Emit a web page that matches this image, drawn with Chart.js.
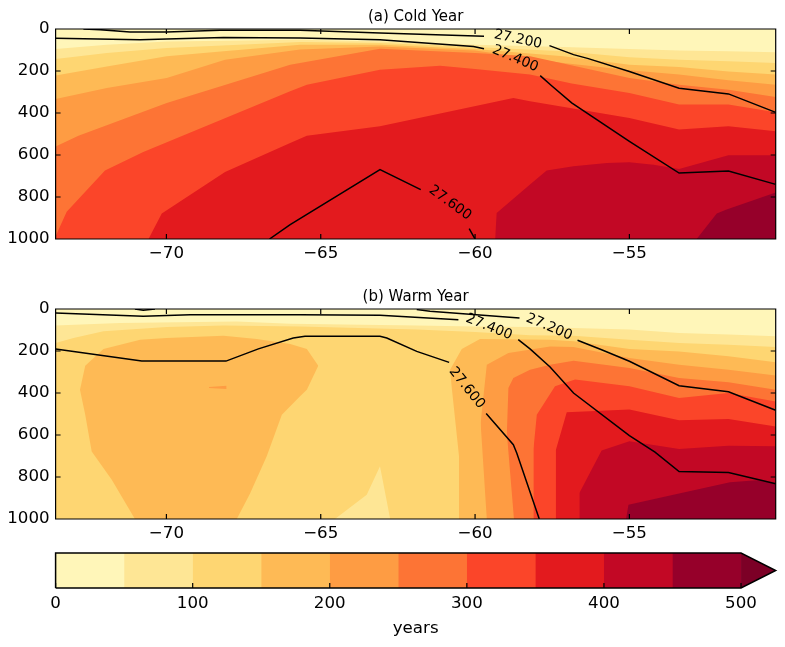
<!DOCTYPE html>
<html>
<head>
<meta charset="utf-8">
<title>Cold and warm year sections</title>
<script src="https://cdn.jsdelivr.net/npm/chart.js@4/dist/chart.umd.min.js"></script>
<style>
  html, body { margin: 0; padding: 0; background: #fff; }
  canvas { position: absolute; left: 0; display: block; }
</style>
</head>
<body>
<canvas id="coldChart" width="785" height="280" style="top:0"></canvas>
<canvas id="warmChart" width="785" height="280" style="top:280px"></canvas>
<canvas id="barChart" width="785" height="107" style="top:540px"></canvas>
<script>
// Axes
const lonTicks = [-70, -65, -60, -55];
const depthTicks = [0, 200, 400, 600, 800, 1000];
const yearTicks = [0, 100, 200, 300, 400, 500];
const yearLevels = [0, 50, 100, 150, 200, 250, 300, 350, 400, 450];

// Cold year: age contours as [lon, depth], filled down to the bottom
const cold0 = [[-73.59, 0], [-50.26, 0]];
const cold50 = [[-73.59, 95], [-71.93, 75], [-69.99, 59], [-65.67, 51], [-63.08, 59], [-60, 75], [-57.14, 86], [-55, 95], [-53.39, 102], [-51.79, 106], [-50.26, 111]];
const cold100 = [[-73.59, 143], [-71.93, 114], [-69.99, 90], [-65.67, 62], [-63.08, 67], [-60, 86], [-57.14, 106], [-55, 135], [-53.39, 146], [-51.79, 154], [-50.26, 162]];
const cold150 = [[-73.59, 221], [-71.93, 178], [-69.99, 130], [-68.15, 106], [-65.67, 75], [-63.08, 75], [-60, 95], [-57.14, 130], [-55, 170], [-53.39, 181], [-51.79, 202], [-50.26, 217]];
const cold200 = [[-73.59, 333], [-71.93, 281], [-69.99, 233], [-68.1, 146], [-65.67, 98], [-63.08, 83], [-60, 102], [-57.14, 162], [-55, 197], [-53.39, 217], [-51.79, 244], [-50.26, 265]];
const cold250 = [[-73.59, 559], [-72.85, 508], [-69.99, 352], [-65.99, 170], [-63.08, 94], [-60, 114], [-58.22, 130], [-55, 233], [-53.39, 265], [-51.79, 289], [-50.26, 324]];
const cold300 = [[-73.59, 987], [-73.23, 870], [-71.99, 674], [-70.75, 586], [-65.99, 297], [-65.45, 265], [-63.08, 194], [-61.13, 175], [-60, 190], [-58.22, 217], [-56.87, 260], [-55, 305], [-53.39, 360], [-51.79, 360], [-50.26, 397]];
const cold350 = [[-70.58, 1000], [-70.15, 879], [-68.1, 681], [-65.99, 543], [-65.45, 508], [-63.08, 463], [-58.76, 329], [-58.22, 344], [-55, 424], [-53.39, 479], [-51.79, 463], [-50.26, 487]];
const cold400 = [[-59.35, 1000], [-59.3, 876], [-58.22, 741], [-57.68, 674], [-56.81, 654], [-55.73, 638], [-55, 635], [-54.22, 646], [-53.39, 667], [-52.49, 630], [-51.79, 601], [-50.26, 601]];
const cold450 = [[-52.82, 1000], [-52.17, 879], [-51.85, 860], [-50.26, 778]];

// Cold year: density contours
const cold272a = [[-72.69, 0], [-72.15, 3], [-71.18, 14], [-69.99, 14], [-68.26, 6], [-65.67, 6], [-63.08, 19], [-59.71, 35]];
const cold272b = [[-57.59, 79], [-56.81, 122], [-56.33, 141], [-55, 202], [-53.39, 282], [-51.79, 309], [-50.26, 397]];
const cold274a = [[-73.59, 44], [-70.85, 51], [-69.99, 48], [-68.15, 40], [-65.67, 43], [-63.08, 51], [-60.05, 83], [-59.71, 94]];
const cold274b = [[-57.89, 222], [-57.52, 270], [-56.87, 352], [-55, 535], [-53.39, 686], [-51.79, 676], [-50.26, 740]];
const cold276a = [[-66.66, 1000], [-65.99, 932], [-63.08, 670], [-61.76, 765]];
const cold276b = [[-60.19, 951], [-60, 1000]];
const coldLabels = ['27.200', '27.400', '27.600'];
const coldLabelLon = [-58.61, -58.7, -60.81];
const coldLabelDepth = [50, 141, 828];

// Warm year: age contours
const warm0 = [[-73.59, 0], [-50.26, 0]];
const warm50 = [[-73.59, 79], [-71.5, 67], [-67.72, 59], [-65.99, 70], [-61.89, 79], [-60, 83], [-58.22, 86], [-56.81, 90], [-55, 98], [-53.39, 114], [-51.79, 122], [-50.26, 130]];
const warm100 = [[-73.59, 162], [-73.01, 138], [-72.04, 106], [-69.99, 86], [-68.15, 79], [-65.67, 83], [-61.89, 98], [-60, 110], [-58.22, 125], [-56.81, 127], [-55, 146], [-53.39, 162], [-51.79, 170], [-50.26, 181]];
const warmPatch = [[-64.54, 1000], [-63.51, 884], [-63.08, 749], [-62.75, 1000]];
const warmBlobTop = [[-72.8, 384], [-72.63, 270], [-72.04, 190], [-70.85, 146], [-69.99, 138], [-68.15, 127], [-67.07, 143], [-65.99, 167], [-65.45, 190], [-65.08, 270]];
const warmBlobBase = [[-72.8, 384], [-72.63, 503], [-72.42, 678], [-71.77, 813], [-71.02, 1000], [-67.72, 1000], [-67.29, 879], [-66.75, 701], [-66.26, 503], [-65.67, 416], [-65.45, 384], [-65.08, 270]];
const warmSpotTop = [[-68.62, 371], [-68.05, 365]];
const warmSpotBase = [[-68.62, 376], [-68.05, 381]];
const warm150Top = [[-60.81, 289], [-60.43, 190], [-59.84, 143], [-57.57, 146], [-56.81, 154], [-55, 190], [-53.39, 202], [-51.79, 225], [-50.26, 254]];
const warm150Base = [[-60.81, 289], [-60.76, 368], [-60.52, 701], [-60.52, 1000], [-50.26, 1000]];
const warm200Top = [[-59.82, 543], [-59.62, 265], [-58.92, 209], [-57.57, 178], [-56.81, 181], [-55, 233], [-53.39, 265], [-51.79, 289], [-50.26, 317]];
const warm200Base = [[-59.82, 543], [-59.62, 1000], [-50.26, 1000]];
const warm250Top = [[-58.97, 590], [-58.92, 376], [-58.76, 329], [-58.22, 289], [-57.57, 265], [-56.81, 246], [-55, 281], [-53.39, 329], [-51.79, 349], [-50.26, 384]];
const warm250Base = [[-58.97, 590], [-58.74, 1000], [-50.26, 1000]];
const warm300Top = [[-58.11, 670], [-58, 503], [-57.41, 368], [-56.76, 336], [-55, 368], [-53.39, 424], [-51.79, 400], [-50.26, 440]];
const warm300Base = [[-58.11, 670], [-58.1, 1000], [-50.26, 1000]];
const warm350 = [[-57.41, 1000], [-57.38, 670], [-57.03, 492], [-55, 479], [-53.39, 530], [-51.79, 524], [-50.26, 559]];
const warm400 = [[-56.62, 1000], [-56.62, 876], [-55.9, 674], [-55, 630], [-53.39, 667], [-51.79, 651], [-50.26, 654]];
const warm450 = [[-55.11, 1000], [-55.03, 932], [-53.39, 879], [-51.74, 825], [-50.87, 816], [-50.26, 832]];

// Warm year: density contours
const warm272a = [[-71.02, 0], [-70.75, 6], [-70.37, 0]];
const warm272b = [[-61.89, 3], [-61.46, 11], [-58.56, 43]];
const warm272c = [[-56.68, 149], [-55.9, 194], [-55, 249], [-53.39, 365], [-51.79, 394], [-50.26, 482]];
const warm274a = [[-73.59, 19], [-70.75, 35], [-69.23, 27], [-65.67, 27], [-63.08, 30], [-60.54, 51]];
const warm274b = [[-58.6, 146], [-58.22, 190], [-57.57, 276], [-56.81, 400], [-55, 603], [-54.17, 682], [-53.39, 774], [-51.79, 779], [-50.26, 832]];
const warm276a = [[-73.59, 190], [-70.8, 248], [-68.07, 248], [-67.02, 190], [-65.89, 138], [-65.51, 130], [-63.08, 130], [-62.86, 138], [-61.89, 202], [-60.84, 254]];
const warm276b = [[-59.64, 498], [-58.76, 646], [-58.65, 686], [-57.92, 1000]];
const warmLabels = ['27.200', '27.400', '27.600'];
const warmLabelLon = [-57.6, -59.55, -60.27];
const warmLabelDepth = [86, 86, 376];

// Styles
const bandColors = ['#fff6b9', '#fee695', '#fed672', '#feba55', '#fe9c43', '#fd7435', '#fb4529', '#e31a1e', '#c20825', '#96002a'];
const overColor = '#7c0026';
const fontName = '"DejaVu Sans", sans-serif';
const tickFont = { family: fontName, size: 16.67 };
const coldLabelAngles = [12, 23, 36];
const warmLabelAngles = [23, 22, 51];

const toPoints = (pairs) => pairs.map((p) => ({ x: p[0], y: p[1] }));

// Filled area below a contour, or between a contour and a second curve
function addBand(list, color, top, base) {
  list.push({ data: toPoints(top), backgroundColor: color, fill: base ? '+1' : 'start', borderWidth: 0, pointRadius: 0 });
  if (base) {
    list.push({ data: toPoints(base), fill: false, borderWidth: 0, pointRadius: 0 });
  }
}

function addLines(list, lines) {
  lines.forEach((line) => {
    list.push({ data: toPoints(line), fill: false, borderColor: '#000', borderWidth: 1.5, pointRadius: 0 });
  });
}

// Later datasets must paint on top, Chart.js draws the highest order first
function setPaintOrder(list) {
  list.forEach((ds, i) => { ds.order = list.length - i; ds.tension = 0; });
  return list;
}

// Inward ticks on all sides, frame and contour labels
const framePlugin = {
  id: 'framePlugin',
  afterDatasetsDraw(chart, args, opts) {
    const { ctx, chartArea: a, scales } = chart;
    ctx.save();
    ctx.strokeStyle = '#000';
    ctx.lineWidth = 1.2;
    ctx.beginPath();
    scales.x.ticks.forEach((t) => {
      const px = scales.x.getPixelForValue(t.value);
      ctx.moveTo(px, a.bottom);
      ctx.lineTo(px, a.bottom - opts.tickSize);
      if (opts.allSides) {
        ctx.moveTo(px, a.top);
        ctx.lineTo(px, a.top + opts.tickSize);
      }
    });
    if (opts.allSides) {
      scales.y.ticks.forEach((t) => {
        const py = scales.y.getPixelForValue(t.value);
        ctx.moveTo(a.left, py);
        ctx.lineTo(a.left + opts.tickSize, py);
        ctx.moveTo(a.right, py);
        ctx.lineTo(a.right - opts.tickSize, py);
      });
      ctx.rect(a.left, a.top, a.right - a.left, a.bottom - a.top);
    }
    ctx.stroke();

    ctx.fillStyle = '#000';
    ctx.font = '13.9px ' + fontName;
    ctx.textAlign = 'center';
    ctx.textBaseline = 'middle';
    (opts.labels || []).forEach((text, i) => {
      ctx.save();
      ctx.translate(scales.x.getPixelForValue(opts.lons[i]), scales.y.getPixelForValue(opts.depths[i]));
      ctx.rotate(opts.angles[i] * Math.PI / 180);
      ctx.fillText(text, 0, 0);
      ctx.restore();
    });
    ctx.restore();
  },
};

function drawPanel(id, title, datasets, labels, lons, depths, angles) {
  new Chart(document.getElementById(id), {
    type: 'line',
    data: { datasets: setPaintOrder(datasets) },
    plugins: [framePlugin],
    options: {
      responsive: false,
      animation: false,
      layout: { padding: { left: 0, right: 9.3, top: 0, bottom: 0 } },
      plugins: {
        legend: { display: false },
        tooltip: { enabled: false },
        title: {
          display: true,
          fullSize: false,
          text: title,
          color: '#000',
          font: { family: fontName, size: 15, weight: 'normal', lineHeight: 1 },
          padding: { top: 9.5, bottom: 4.5 },
        },
        framePlugin: { tickSize: 5, allSides: true, labels, lons, depths, angles },
      },
      scales: {
        x: {
          type: 'linear',
          min: -73.59,
          max: -50.26,
          grid: { display: false, drawTicks: false },
          border: { display: false },
          afterBuildTicks: (scale) => { scale.ticks = lonTicks.map((v) => ({ value: v })); },
          afterFit: (scale) => { scale.height = 41; },
          ticks: {
            color: '#000',
            font: tickFont,
            padding: 5,
            maxRotation: 0,
            autoSkip: false,
            callback: (v) => String(v).replace('-', '\u2212'),
          },
        },
        y: {
          type: 'linear',
          reverse: true,
          min: 0,
          max: 1000,
          grid: { display: false, drawTicks: false },
          border: { display: false },
          afterBuildTicks: (scale) => { scale.ticks = depthTicks.map((v) => ({ value: v })); },
          afterFit: (scale) => { scale.width = 55.6; },
          ticks: { color: '#000', font: tickFont, padding: 6, autoSkip: false, callback: (v) => String(v) },
        },
      },
    },
  });
}

// Panel (a)
const coldSets = [];
[cold0, cold50, cold100, cold150, cold200, cold250, cold300, cold350, cold400, cold450].forEach((c, i) => {
  addBand(coldSets, bandColors[i], c);
});
addLines(coldSets, [cold272a, cold272b, cold274a, cold274b, cold276a, cold276b]);
drawPanel('coldChart', '(a) Cold Year', coldSets, coldLabels, coldLabelLon, coldLabelDepth, coldLabelAngles);

// Panel (b)
const warmSets = [];
addBand(warmSets, bandColors[0], warm0);
addBand(warmSets, bandColors[1], warm50);
addBand(warmSets, bandColors[2], warm100);
addBand(warmSets, bandColors[1], warmPatch);
addBand(warmSets, bandColors[3], warmBlobTop, warmBlobBase);
addBand(warmSets, bandColors[4], warmSpotTop, warmSpotBase);
addBand(warmSets, bandColors[3], warm150Top, warm150Base);
addBand(warmSets, bandColors[4], warm200Top, warm200Base);
addBand(warmSets, bandColors[5], warm250Top, warm250Base);
addBand(warmSets, bandColors[6], warm300Top, warm300Base);
addBand(warmSets, bandColors[7], warm350);
addBand(warmSets, bandColors[8], warm400);
addBand(warmSets, bandColors[9], warm450);
addLines(warmSets, [warm272a, warm272b, warm272c, warm274a, warm274b, warm276a, warm276b]);
drawPanel('warmChart', '(b) Warm Year', warmSets, warmLabels, warmLabelLon, warmLabelDepth, warmLabelAngles);

// Colorbar, each band runs on to 500 and the next one paints over it
const barSets = [];
yearLevels.forEach((level, i) => {
  addBand(barSets, bandColors[i], [[level, 1], [500, 1]]);
});
addBand(barSets, overColor, [[500, 1], [525.3, 0.5]], [[500, 0], [525.3, 0.5]]);
barSets.push({
  data: toPoints([[0, 0], [0, 1], [500, 1], [525.3, 0.5], [500, 0], [0, 0]]),
  fill: false,
  borderColor: '#000',
  borderWidth: 1.5,
  pointRadius: 0,
  clip: false,
});

new Chart(document.getElementById('barChart'), {
  type: 'line',
  data: { datasets: setPaintOrder(barSets) },
  plugins: [framePlugin],
  options: {
    responsive: false,
    animation: false,
    layout: { padding: { left: 0, right: 9.3, top: 13, bottom: 0 } },
    plugins: {
      legend: { display: false },
      tooltip: { enabled: false },
      framePlugin: { tickSize: 5, allSides: false },
    },
    scales: {
      x: {
        type: 'linear',
        min: 0,
        max: 525.3,
        grid: { display: false, drawTicks: false },
        border: { display: false },
        afterBuildTicks: (scale) => { scale.ticks = yearTicks.map((v) => ({ value: v })); },
        afterFit: (scale) => { scale.height = 59; },
        title: { display: true, text: 'years', color: '#000', font: tickFont, padding: { top: 4, bottom: 8 } },
        ticks: { color: '#000', font: tickFont, padding: 6, maxRotation: 0, autoSkip: false },
      },
      y: {
        type: 'linear',
        min: 0,
        max: 1,
        grid: { display: false },
        border: { display: false },
        afterFit: (scale) => { scale.width = 55.6; },
        ticks: { display: false },
      },
    },
  },
});
</script>
</body>
</html>
